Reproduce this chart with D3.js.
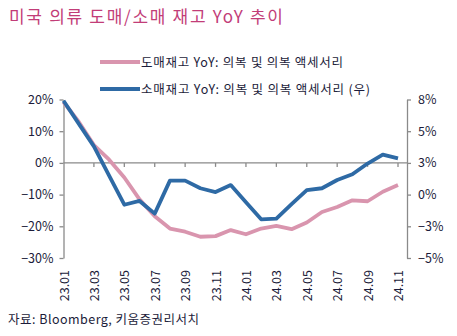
<!DOCTYPE html>
<html><head><meta charset="utf-8">
<script src="https://cdn.jsdelivr.net/npm/d3@7"></script>
<style>body{margin:0;background:#fff}svg{display:block}text{font-family:"Noto Sans CJK KR","Noto Sans",sans-serif}</style>
</head><body>
<script>
const months = ["23.01","23.02","23.03","23.04","23.05","23.06","23.07","23.08","23.09","23.10","23.11","23.12",
"24.01","24.02","24.03","24.04","24.05","24.06","24.07","24.08","24.09","24.10","24.11"];
const wholesale = [19.2,13.0,5.6,1.0,-4.6,-11.5,-16.8,-20.7,-21.7,-23.3,-23.1,-21.2,-22.5,-20.7,-19.9,-20.9,-18.8,-15.5,-13.9,-11.8,-12.1,-9.1,-7.0];
const retail = [7.4,5.6,3.8,1.5,-0.8,-0.5,-1.5,1.1,1.1,0.5,0.2,0.75,-0.6,-1.95,-1.9,-0.75,0.35,0.5,1.15,1.6,2.45,3.15,2.85];
const leftTicks = [20,10,0,-10,-20,-30];
const leftTickLabels = ["20%","10%","0%","−10%","−20%","−30%"];
const rightTicks = [7.5,5,2.5,0,-2.5,-5];
const rightTickLabels = ["8%","5%","3%","0%","−3%","−5%"];
const xTickLabels = ["23.01","23.03","23.05","23.07","23.09","23.11","24.01","24.03","24.05","24.07","24.09","24.11"];
const title = "미국 의류 도매/소매 재고 YoY 추이";
const legendLabels = ["도매재고 YoY: 의복 및 의복 액세서리","소매재고 YoY: 의복 및 의복 액세서리 (우)"];
const source = "자료: Bloomberg, 키움증권리서치";

const W=457,H=336;
const pink="#d995ae", blue="#2e6aa5", axisCol="#8a8a8a", txt="#1c1c3a";
const svg=d3.select("body").append("svg").attr("width",W).attr("height",H);

const x=d3.scalePoint().domain(months).range([63.5,398]);
const yL=d3.scaleLinear().domain([-30,20]).range([258,99.5]);
const yR=d3.scaleLinear().domain([-5,7.5]).range([258,99.5]);
const xRight=407;

svg.append("text").attr("x",9).attr("y",23).attr("font-size",17).attr("fill","#c23d78")
  .attr("textLength",274).attr("lengthAdjust","spacing").text(title);

// legend
const lg=[{c:pink,y:62,t:legendLabels[0],w:202},{c:blue,y:89,t:legendLabels[1],w:229}];
lg.forEach(d=>{
  svg.append("line").attr("x1",100).attr("x2",140).attr("y1",d.y).attr("y2",d.y).attr("stroke",d.c).attr("stroke-width",4);
  svg.append("text").attr("x",141).attr("y",d.y+4.5).attr("font-size",12.5).attr("fill",txt)
    .attr("textLength",d.w).attr("lengthAdjust","spacing").text(d.t);
});

// left axis
const la=svg.append("g").attr("transform","translate(63.5,0)")
  .call(d3.axisLeft(yL).tickValues(leftTicks).tickFormat((d,i)=>leftTickLabels[i]).tickSize(4).tickSizeOuter(0));
// right axis
const ra=svg.append("g").attr("transform",`translate(${xRight},0)`)
  .call(d3.axisRight(yR).tickValues(rightTicks).tickFormat((d,i)=>rightTickLabels[i]).tickSize(4).tickSizeOuter(0));
[la,ra].forEach(g=>{
  g.select(".domain").attr("stroke",axisCol).attr("stroke-width",1.3);
  g.selectAll(".tick line").attr("stroke",axisCol).attr("stroke-width",1.3);
  g.selectAll(".tick text").attr("font-size",12.5).attr("fill",txt).style("font-family",'"Noto Sans CJK KR",sans-serif');
});
la.selectAll(".tick text").attr("x",-10);
ra.selectAll(".tick text").attr("x",11);

// x axis at zero
const y0=yL(0);
svg.append("line").attr("x1",63.5).attr("x2",xRight).attr("y1",y0).attr("y2",y0).attr("stroke",axisCol).attr("stroke-width",1.3);
xTickLabels.forEach((m,i)=>{
  if(i===0) return;
  svg.append("line").attr("x1",x(m)).attr("x2",x(m)).attr("y1",y0).attr("y2",y0+4).attr("stroke",axisCol).attr("stroke-width",1.3);
});
xTickLabels.forEach(m=>{
  svg.append("text").attr("transform",`translate(${x(m)+5},270) rotate(-90)`).attr("text-anchor","end")
    .attr("font-size",12.5).attr("fill",txt).text(m);
});

// lines
const lineL=d3.line().x((d,i)=>x(months[i])).y(d=>yL(d));
const lineR=d3.line().x((d,i)=>x(months[i])).y(d=>yR(d));
svg.append("path").datum(wholesale).attr("d",lineL).attr("fill","none").attr("stroke",pink).attr("stroke-width",3.8).attr("stroke-linejoin","round");
svg.append("path").datum(retail).attr("d",lineR).attr("fill","none").attr("stroke",blue).attr("stroke-width",3.8).attr("stroke-linejoin","round");

svg.append("text").attr("x",8).attr("y",324).attr("font-size",12.5).attr("fill",txt)
  .attr("textLength",191).attr("lengthAdjust","spacing").text(source);
</script>
</body></html>
